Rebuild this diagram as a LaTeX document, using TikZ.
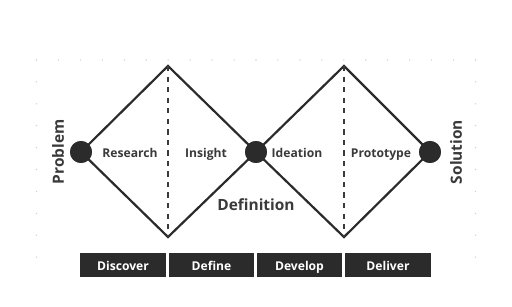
\documentclass[tikz,border=0pt]{standalone}
\usepackage{fontspec}
\setmainfont{Open Sans}
\usepackage{tikz}
\usetikzlibrary{positioning}
\definecolor{inkdark}{HTML}{2B2B2B}
\definecolor{labelgray}{HTML}{3A3A3A}
\definecolor{dotgray}{HTML}{D2D2D2}

\begin{document}
\begin{tikzpicture}[
    x=0.02cm, y=-0.02cm,
    hub/.style={circle, fill=inkdark, minimum size=0.44cm, inner sep=0pt},
    phase/.style={font=\fontsize{6.9}{8}\selectfont\bfseries, text=labelgray,
                  text height=1.5ex, text depth=0.35ex},
    endlabel/.style={font=\fontsize{8.8}{10}\selectfont\bfseries, text=labelgray, rotate=90},
    stagebox/.style={fill=inkdark, text=white, minimum width=1.72cm,
                     minimum height=0.48cm, inner sep=0pt,
                     text height=1.5ex, text depth=0.35ex,
                     font=\fontsize{6.9}{8}\selectfont\bfseries},
    diamondline/.style={draw=inkdark, line width=1.25pt, line join=miter},
    splitline/.style={draw=labelgray, line width=0.7pt, dashed}
  ]
  \useasboundingbox (0,0) rectangle (512,307);

  %% Dotted frame
  \foreach \i in {0,...,20}
    \fill[dotgray] (36.5+\i*21.95,60) circle (0.45pt);
  \foreach \j in {1,...,9} {
    \fill[dotgray] (36.5,60+\j*21.9) circle (0.45pt);
    \fill[dotgray] (475.5,60+\j*21.9) circle (0.45pt);
  }

  %% Corners of the two diamonds
  \coordinate (t1) at (168,66);
  \coordinate (b1) at (168,237);
  \coordinate (t2) at (344,66);
  \coordinate (b2) at (344,237);

  %% Hubs
  \node[hub] (start) at (81,152) {};
  \node[hub] (mid) at (256,152) {};
  \node[hub] (goal) at (430,152) {};

  %% Diamonds
  \draw[diamondline] (start.center) -- (t1) -- (mid.center) -- (b1) -- cycle;
  \draw[diamondline] (mid.center) -- (t2) -- (goal.center) -- (b2) -- cycle;
  \draw[splitline] (t1) -- (b1);
  \draw[splitline] (t2) -- (b2);
  \node[hub] at (start) {};
  \node[hub] at (mid) {};
  \node[hub] at (goal) {};

  %% Phase labels
  \node[phase] (research) at (130,152) {Research};
  \node[phase] (insight) at (206,152) {Insight};
  \node[phase] (ideation) at (297,152) {Ideation};
  \node[phase] (prototype) at (381,152) {Prototype};
  \node[font=\fontsize{8.8}{10}\selectfont\bfseries, text=labelgray]
    (definition) at (256,205) {Definition};

  %% End labels
  \node[endlabel] (problem) at (58,152) {Problem};
  \node[endlabel] (solution) at (456,152) {Solution};

  %% Stage bar
  \node[stagebox] (discover) at (123,265) {Discover};
  \node[stagebox] (define) at (211.5,265) {Define};
  \node[stagebox] (develop) at (299.5,265) {Develop};
  \node[stagebox] (deliver) at (388,265) {Deliver};

\end{tikzpicture}
\end{document}
